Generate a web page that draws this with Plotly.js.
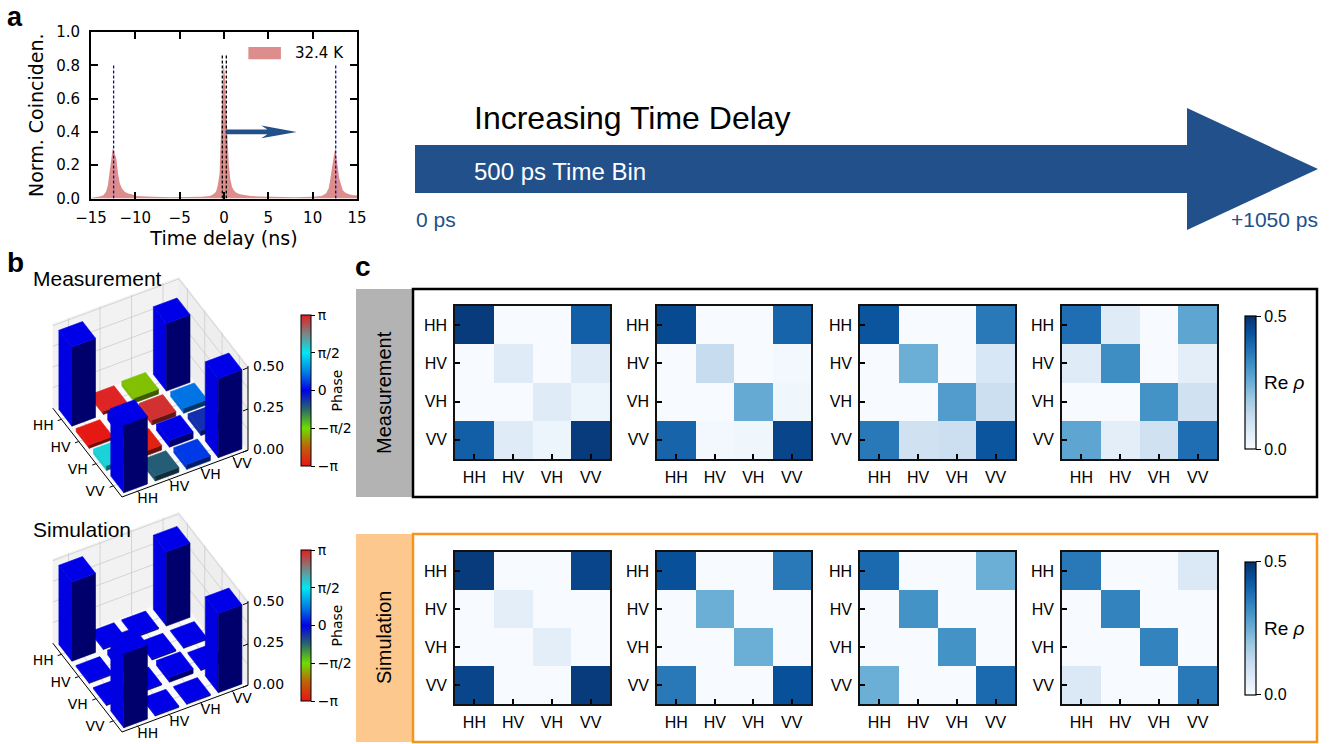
<!DOCTYPE html>
<html><head><meta charset="utf-8">
<script src="https://cdn.plot.ly/plotly-3.0.1.min.js"></script>
<style>html,body{margin:0;padding:0;background:#fff}#plot{width:1335px;height:744px}</style>
</head><body><div id="plot"></div>
<script>
// ---------- DATA ----------
const labels = ['HH','HV','VH','VV'];

// panel a: coincidence histogram (time, ns) and normalized counts
const timeNs = [-15,-14.5,-14,-13.6,-13.3,-13.1,-12.9,-12.7,-12.55,-12.35,-12.15,-11.95,-11.75,-11.5,-11.2,-10.8,-10.4,-10,-9.2,-8,-6,-4,-2.5,-1.6,-1.2,-0.9,-0.7,-0.5,-0.35,-0.2,-0.05,0.1,0.25,0.4,0.55,0.7,0.9,1.1,1.4,1.8,2.3,3,4,6,8,10,11,11.5,11.8,12.0,12.2,12.4,12.55,12.7,12.85,13.0,13.2,13.4,13.7,14.1,14.6,15];
const coinc  = [0.005,0.008,0.012,0.02,0.04,0.08,0.17,0.26,0.30,0.27,0.24,0.15,0.09,0.06,0.04,0.03,0.025,0.015,0.012,0.01,0.008,0.008,0.01,0.015,0.025,0.04,0.08,0.15,0.33,0.6,0.82,0.74,0.52,0.34,0.2,0.12,0.07,0.05,0.035,0.025,0.02,0.015,0.012,0.008,0.008,0.01,0.015,0.03,0.06,0.12,0.2,0.26,0.30,0.25,0.18,0.12,0.08,0.05,0.035,0.025,0.02,0.02];
const sidePeakLines = [-12.45, 12.6];   // blue dashed markers
const sidePeakTop = 0.81;
const centerLines = [-0.19, 0.26];      // black dashed markers
const centerTop = 0.86;
const arrowStart = 0.25, arrowEnd = 8.2, arrowLevel = 0.4;

// panel b: |rho| bar heights and phases (rows HH..VV, cols HH..VV)
const measAbs = [[0.48,0.02,0.03,0.41],[0.02,0.05,0.03,0.03],[0.03,0.03,0.04,0.03],[0.41,0.03,0.03,0.48]];
const measPhase = [[0,3.1,-1.75,0],[-3.1,0,3.0,0.7],[1.75,-3.0,0,-0.35],[0,-0.7,0.35,0]];
const simAbs = [[0.48,0.008,0.008,0.45],[0.008,0.03,0.008,0.008],[0.008,0.008,0.03,0.008],[0.45,0.008,0.008,0.48]];
const simPhase = [[0,0,0,0],[0,0,0,0],[0,0,0,0],[0,0,0,0]];
const zTicks = [0, 0.25, 0.5];
const zTickText = ['0.00','0.25','0.50'];

// panel c: Re rho at increasing time delay
const meas1 = [[0.48,0,0,0.41],[0,0.06,0,0.06],[0,0,0.06,0.025],[0.41,0.06,0.025,0.48]];
const meas2 = [[0.45,0,0,0.40],[0,0.12,0,0.01],[0,0,0.26,0.02],[0.40,0.01,0.02,0.46]];
const meas3 = [[0.43,0,0,0.36],[0,0.25,0,0.08],[0,0,0.29,0.11],[0.36,0.10,0.11,0.43]];
const meas4 = [[0.38,0.06,0,0.27],[0.06,0.32,0,0.05],[0,0,0.31,0.10],[0.27,0.05,0.10,0.38]];
const sim1 = [[0.48,0,0,0.46],[0,0.05,0,0],[0,0,0.05,0],[0.46,0,0,0.48]];
const sim2 = [[0.44,0,0,0.36],[0,0.25,0,0],[0,0,0.25,0],[0.36,0,0,0.44]];
const sim3 = [[0.39,0,0,0.25],[0,0.31,0,0],[0,0,0.31,0],[0.25,0,0,0.39]];
const sim4 = [[0.36,0,0,0.07],[0,0.34,0,0],[0,0,0.34,0],[0.07,0,0,0.36]];

// ---------- helpers ----------
const W = 1335, H = 744;
const px = x => x / W, py = y => 1 - y / H;
const blues = [[0,'#f7fbff'],[0.125,'#deebf7'],[0.25,'#c6dbef'],[0.375,'#9ecae1'],[0.5,'#6baed6'],[0.625,'#4292c6'],[0.75,'#2171b5'],[0.875,'#08519c'],[1,'#08306b']];
const phaseStops = [[0,[232,20,20]],[0.13,[190,100,10]],[0.25,[110,222,0]],[0.38,[40,100,110]],[0.5,[0,0,232]],[0.62,[0,125,228]],[0.75,[0,232,242]],[0.88,[125,130,130]],[1,[228,30,30]]];
const phaseScale = phaseStops.map(s => [s[0], 'rgb(' + s[1].join(',') + ')']);
function phaseColor(ph, shade) {
  const t = Math.min(1, Math.max(0, (ph + Math.PI) / (2 * Math.PI)));
  let k = 0; while (k < phaseStops.length - 2 && t > phaseStops[k+1][0]) k++;
  const a = phaseStops[k], b = phaseStops[k+1], f = (t - a[0]) / (b[0] - a[0]);
  const c = a[1].map((v,i) => Math.round((v + (b[1][i] - v) * f) * shade));
  return 'rgb(' + c.join(',') + ')';
}
const sans = 'Liberation Sans, Arial, sans-serif';
const dj = 'DejaVu Sans, sans-serif';

const traces = [];
// ---------- panel a ----------
traces.push({type:'scatter', x: timeNs, y: coinc, mode:'lines', line:{width:0, color:'rgba(214,112,112,0.8)'}, fill:'tozeroy', fillcolor:'rgba(214,112,112,0.8)', xaxis:'x', yaxis:'y', showlegend:false, hoverinfo:'skip'});
sidePeakLines.forEach(v => traces.push({type:'scatter', x:[v,v], y:[0,sidePeakTop], mode:'lines', line:{color:'#0a0ab4', width:1.3, dash:'3px,2px'}, xaxis:'x', yaxis:'y', showlegend:false}));
centerLines.forEach(v => traces.push({type:'scatter', x:[v,v], y:[0,centerTop], mode:'lines', line:{color:'#000', width:1.3, dash:'3px,2px'}, xaxis:'x', yaxis:'y', showlegend:false}));

// ---------- panel b: 3D bar charts drawn with an oblique projection on a pixel-scaled hidden axis ----------
const colVec = [31.5, -11.7], rowVec = [17.3, 22.2], zScale = 165, origin = [122, 497];
const zTop = 0.51, bw = 0.375;
function P(c, r, z, oy) {
  return [origin[0] + (c + 0.5) * colVec[0] + (r - 3.5) * rowVec[0],
          origin[1] + oy + (c + 0.5) * colVec[1] + (r - 3.5) * rowVec[1] - z * zScale];
}
function poly(pts, fill, lineColor, lw) {
  return {type:'scatter', xaxis:'x10', yaxis:'y10', x: pts.map(p=>p[0]).concat([pts[0][0]]), y: pts.map(p=>p[1]).concat([pts[0][1]]),
    mode:'lines', fill: fill ? 'toself' : 'none', fillcolor: fill || undefined, line:{color: lineColor || fill, width: lw === undefined ? 0.6 : lw},
    showlegend:false, hoverinfo:'skip'};
}
function seg(a, b, color, w) {
  return {type:'scatter', xaxis:'x10', yaxis:'y10', x:[a[0],b[0]], y:[a[1],b[1]], mode:'lines', line:{color:color, width:w}, showlegend:false, hoverinfo:'skip'};
}
function panelB(absM, phM, oy) {
  const lo = -0.5, hi = 3.5, grid = '#cccccc';
  // panes
  traces.push(poly([P(lo,lo,0,oy),P(hi,lo,0,oy),P(hi,hi,0,oy),P(lo,hi,0,oy)], 'rgb(250,250,250)', 'rgb(250,250,250)'));
  traces.push(poly([P(lo,lo,0,oy),P(hi,lo,0,oy),P(hi,lo,zTop,oy),P(lo,lo,zTop,oy)], 'rgb(242,242,242)', 'rgb(242,242,242)'));
  traces.push(poly([P(hi,lo,0,oy),P(hi,hi,0,oy),P(hi,hi,zTop,oy),P(hi,lo,zTop,oy)], 'rgb(238,238,238)', 'rgb(238,238,238)'));
  // grid lines
  [0,1,2,3].forEach(t => {
    traces.push(seg(P(t,lo,0,oy), P(t,hi,0,oy), grid, 0.8));
    traces.push(seg(P(lo,t,0,oy), P(hi,t,0,oy), grid, 0.8));
    traces.push(seg(P(t,lo,0,oy), P(t,lo,zTop,oy), grid, 0.8));
    traces.push(seg(P(hi,t,0,oy), P(hi,t,zTop,oy), grid, 0.8));
  });
  [0.125,0.25,0.375,0.5].forEach(z => {
    traces.push(seg(P(lo,lo,z,oy), P(hi,lo,z,oy), grid, 0.8));
    traces.push(seg(P(hi,lo,z,oy), P(hi,hi,z,oy), grid, 0.8));
  });
  // axis lines + ticks
  traces.push(seg(P(lo,lo,0,oy), P(lo,hi,0,oy), '#000', 1));
  traces.push(seg(P(lo,hi,0,oy), P(hi,hi,0,oy), '#000', 1));
  traces.push(seg(P(hi,hi,0,oy), P(hi,hi,zTop,oy), '#000', 1));
  [0,1,2,3].forEach(t => {
    traces.push(seg(P(lo,t,0,oy), P(lo-0.12,t,0,oy), '#000', 1));
    traces.push(seg(P(t,hi,0,oy), P(t,hi+0.12,0,oy), '#000', 1));
  });
  zTicks.forEach(z => traces.push(seg(P(hi,hi,z,oy), [P(hi,hi,z,oy)[0]-5, P(hi,hi,z,oy)[1]+2], '#000', 1)));
  // bars, far to near
  const order = [];
  for (let r=0;r<4;r++) for (let c=0;c<4;c++) order.push([r,c]);
  order.sort((a,b) => (0.871*a[0] - 0.495*a[1]) - (0.871*b[0] - 0.495*b[1]));
  order.forEach(([r,c]) => {
    const h = absM[r][c], ph = phM[r][c];
    const top = [P(c-bw,r-bw,h,oy),P(c+bw,r-bw,h,oy),P(c+bw,r+bw,h,oy),P(c-bw,r+bw,h,oy)];
    const left = [P(c-bw,r-bw,0,oy),P(c-bw,r+bw,0,oy),P(c-bw,r+bw,h,oy),P(c-bw,r-bw,h,oy)];
    const front = [P(c-bw,r+bw,0,oy),P(c+bw,r+bw,0,oy),P(c+bw,r+bw,h,oy),P(c-bw,r+bw,h,oy)];
    traces.push(poly(left, phaseColor(ph, 0.97)));
    traces.push(poly(front, phaseColor(ph, 0.47)));
    traces.push(poly(top, phaseColor(ph, 1.0)));
  });
  // tick labels
  const lx=[],ly=[],cx=[],cy=[],zx=[],zy=[];
  [0,1,2,3].forEach(t => {
    const a = P(lo-0.58, t, 0, oy); lx.push(a[0]); ly.push(a[1]);
    const b = P(t, hi, 0, oy); cx.push(b[0] + 10); cy.push(b[1] + 8);
  });
  zTicks.forEach(z => { const a = P(hi,hi,z,oy); zx.push(a[0]+5); zy.push(a[1]); });
  const tf = {family:dj, size:14, color:'#000'};
  traces.push({type:'scatter', xaxis:'x10', yaxis:'y10', x:lx, y:ly, mode:'text', text:labels, textfont:tf, showlegend:false, hoverinfo:'skip'});
  traces.push({type:'scatter', xaxis:'x10', yaxis:'y10', x:cx, y:cy, mode:'text', text:labels, textfont:tf, showlegend:false, hoverinfo:'skip'});
  traces.push({type:'scatter', xaxis:'x10', yaxis:'y10', x:zx, y:zy, mode:'text', text:zTickText, textposition:'middle right', textfont:tf, showlegend:false, hoverinfo:'skip'});
  // colorbar carrier (phase scale)
  traces.push({type:'scatter', xaxis:'x10', yaxis:'y10', x:[-50], y:[-50], mode:'markers', showlegend:false, hoverinfo:'skip',
    marker:{color:[0], colorscale:phaseScale, cmin:-Math.PI, cmax:Math.PI, size:1, showscale:true,
      colorbar:{x:px(291), xanchor:'left', y:py(390.5 + oy), yanchor:'middle', lenmode:'pixels', len:171, thickness:10,
        outlinewidth:1, outlinecolor:'#000', ticks:'outside', ticklen:4, tickcolor:'#000',
        tickvals:[-Math.PI,-Math.PI/2,0,Math.PI/2,Math.PI], ticktext:['−π','−π/2','0','π/2','π'],
        tickfont:{family:dj, size:14, color:'#000'}, title:{text:'Phase', side:'right', font:{family:dj, size:14, color:'#000'}}}}});
}
panelB(measAbs, measPhase, 0);
panelB(simAbs, simPhase, 235);

// ---------- panel c heatmaps ----------
const mats = [meas1,meas2,meas3,meas4,sim1,sim2,sim3,sim4];
mats.forEach((m,idx) => {
  traces.push({type:'heatmap', z:m, x:[0,1,2,3], y:[0,1,2,3], colorscale:blues, zmin:0, zmax:0.5,
    xaxis:'x'+(idx+2), yaxis:'y'+(idx+2), hoverinfo:'skip',
    showscale: (idx===3 || idx===7),
    colorbar:{x:px(1235), xanchor:'left', y: py(idx<4?382.5:628), yanchor:'middle', lenmode:'pixels', len:153, thickness:11,
      outlinewidth:1.2, outlinecolor:'#000', ticks:'outside', ticklen:5, tickcolor:'#000', tickvals:[0,0.5], ticktext:['0.0','0.5'],
      tickfont:{family:sans, size:16, color:'#000'}}});
});

const layout = {width:W, height:H, margin:{l:0,r:0,t:0,b:0}, paper_bgcolor:'#fff', plot_bgcolor:'rgba(0,0,0,0)', showlegend:false,
  font:{family:sans, color:'#000'},
  xaxis:{domain:[px(91),px(357)], range:[-15,15], tickvals:[-15,-10,-5,0,5,10,15], ticks:'inside', ticklen:7, tickwidth:1.8, tickcolor:'#000',
    showline:true, mirror:'ticks', linewidth:2, linecolor:'#000', zeroline:false, showgrid:false, anchor:'y', ticklabelstandoff:4,
    tickfont:{family:dj, size:15}, title:{text:'Time delay (ns)', font:{family:dj, size:19}, standoff:6}},
  yaxis:{domain:[py(198.5),py(32)], range:[0,1], tickvals:[0,0.2,0.4,0.6,0.8,1.0], tickformat:'.1f', ticks:'inside', ticklen:7, tickwidth:1.8, tickcolor:'#000',
    showline:true, mirror:'ticks', linewidth:2, linecolor:'#000', zeroline:false, showgrid:false, anchor:'x', ticklabelstandoff:6,
    tickfont:{family:dj, size:15}, title:{text:'Norm. Coinciden.', font:{family:dj, size:19}, standoff:7}},
  xaxis10:{domain:[0,px(300)], range:[0,300], visible:false, fixedrange:true, anchor:'y10'},
  yaxis10:{domain:[py(744),py(255)], range:[744,255], visible:false, fixedrange:true, anchor:'x10'},
  shapes:[], annotations:[]
};

// heatmap axes
const hx = [[455,610],[657,811],[860,1015],[1062,1217]];
const hy = [[306,459],[552,704]];
for (let idx=0; idx<8; idx++) {
  const n = idx+2, col = idx%4, row = Math.floor(idx/4);
  layout['xaxis'+n] = {domain:[px(hx[col][0]),px(hx[col][1])], anchor:'y'+n, range:[-0.5,3.5], tickvals:[0,1,2,3], ticktext:labels,
    ticks:'inside', ticklen:5, tickwidth:1.8, tickcolor:'#000', showline:true, mirror:true, linewidth:1.8, linecolor:'#111',
    showgrid:false, zeroline:false, tickfont:{family:sans, size:16}, ticklabelstandoff:3, fixedrange:true};
  layout['yaxis'+n] = {domain:[py(hy[row][1]),py(hy[row][0])], anchor:'x'+n, range:[3.5,-0.5], tickvals:[0,1,2,3], ticktext:labels,
    ticks:'inside', ticklen:5, tickwidth:1.8, tickcolor:'#000', showline:true, mirror:true, linewidth:1.8, linecolor:'#111',
    showgrid:false, zeroline:false, tickfont:{family:sans, size:16}, ticklabelstandoff:3, fixedrange:true};
}

// shapes: big arrow, panel c frames, legend patch, panel a arrow
const ap = [[415,145],[1187,145],[1187,108],[1318,169],[1187,230],[1187,193],[415,193]];
layout.shapes.push({type:'path', xref:'paper', yref:'paper', path: 'M' + ap.map(p => px(p[0])+','+py(p[1])).join(' L') + ' Z', fillcolor:'#21508a', line:{width:0}});
layout.shapes.push({type:'rect', xref:'paper', yref:'paper', x0:px(356), x1:px(413), y0:py(497), y1:py(289), fillcolor:'#b3b3b3', line:{width:0}});
layout.shapes.push({type:'rect', xref:'paper', yref:'paper', x0:px(413), x1:px(1317), y0:py(497), y1:py(289), line:{color:'#000', width:2.5}});
layout.shapes.push({type:'rect', xref:'paper', yref:'paper', x0:px(356), x1:px(413), y0:py(742), y1:py(534), fillcolor:'#fdc88d', line:{width:0}});
layout.shapes.push({type:'rect', xref:'paper', yref:'paper', x0:px(413), x1:px(1317), y0:py(742), y1:py(534), line:{color:'#f7941e', width:2.5}});
layout.shapes.push({type:'rect', xref:'x', yref:'y', x0:2.75, x1:6.42, y0:0.836, y1:0.91, fillcolor:'rgba(214,112,112,0.8)', line:{width:0}});
const L = arrowLevel, s0 = arrowStart, e0 = arrowEnd;
const arr = [[s0,L+0.014],[e0-3.3,L+0.014],[e0-4.0,L+0.038],[e0,L],[e0-4.0,L-0.038],[e0-3.3,L-0.014],[s0,L-0.014]];
layout.shapes.push({type:'path', xref:'x', yref:'y', path:'M' + arr.map(p => p[0]+','+p[1]).join(' L') + ' Z', fillcolor:'#21508a', line:{width:0}});

function ann(text, x, y, size, opts) {
  return Object.assign({xref:'paper', yref:'paper', x:px(x), y:py(y), text:text, showarrow:false, xanchor:'left', yanchor:'middle',
    font:{family:sans, size:size, color:'#000'}}, opts||{});
}
layout.annotations.push(ann('32.4 K', 293, 53, 15, {font:{family:dj, size:15, color:'#000'}}));
layout.annotations.push(ann('<b>a</b>', 5, 0, 27, {yanchor:'top'}));
layout.annotations.push(ann('<b>b</b>', 5, 262, 28));
layout.annotations.push(ann('<b>c</b>', 353, 266, 28));
layout.annotations.push(ann('Measurement', 31, 278, 21));
layout.annotations.push(ann('Simulation', 31, 529, 21));
layout.annotations.push(ann('Increasing Time Delay', 472, 118, 32));
layout.annotations.push(ann('500 ps Time Bin', 472, 171, 24, {font:{family:sans, size:24, color:'#fff'}}));
layout.annotations.push(ann('0 ps', 414, 220, 21, {font:{family:sans, size:21, color:'#21508a'}}));
layout.annotations.push(ann('+1050 ps', 1320, 220, 21, {xanchor:'right', font:{family:sans, size:21, color:'#21508a'}}));
layout.annotations.push(ann('Measurement', 384, 393, 20, {xanchor:'center', textangle:-90}));
layout.annotations.push(ann('Simulation', 384, 638, 20, {xanchor:'center', textangle:-90}));
layout.annotations.push(ann('Re <i>ρ</i>', 1262, 382, 19));
layout.annotations.push(ann('Re <i>ρ</i>', 1262, 628, 19));

Plotly.newPlot('plot', traces, layout, {staticPlot:true, displayModeBar:false});
</script></body></html>
